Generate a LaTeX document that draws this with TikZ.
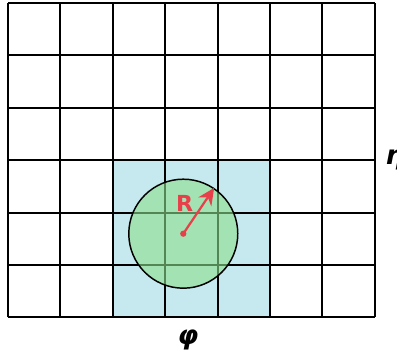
\documentclass[tikz,border=0pt]{standalone}
\usepackage{fontspec}
\usepackage{tikz}
\usetikzlibrary{arrows.meta, positioning, calc}
\newfontfamily\labelfont{DejaVu Sans}
\definecolor{cellblue}{RGB}{197,233,238}
\definecolor{discgreen}{RGB}{140,222,140}
\definecolor{radred}{RGB}{232,64,74}

\begin{document}
\begin{tikzpicture}[
    x=1cm, y=1cm,
    gridline/.style={line width=1.1pt, black},
    disc/.style={circle, draw=black, line width=0.8pt, fill=discgreen, fill opacity=0.6, minimum size=2.08cm, inner sep=0pt},
    radarrow/.style={-{Stealth[length=3.2mm, width=3mm]}, line width=1.2pt, radred},
    axlabel/.style={font=\labelfont\bfseries\itshape\Large, inner sep=0pt}
]
\useasboundingbox (-0.153,-0.706) rectangle (7.424,6.057);
% window of neighbouring cells
\fill[cellblue] (2,0) rectangle (5,3);
% grid
\foreach \i in {0,...,7}
  \draw[gridline] (\i,0) -- (\i,6);
\foreach \j in {0,...,6}
  \draw[gridline] (0,\j) -- (7,\j);
% search radius
\node[disc] (disc) at (3.345,1.597) {};
\fill[radred] (disc.center) circle (0.06);
\draw[radarrow] (disc.center) -- (disc.56);
\node[font=\labelfont\bfseries\large, text=radred] (rlabel) at (3.37,2.18) {R};
\node[axlabel] (phi) at (3.435,-0.44) {φ};
\node[axlabel, anchor=west] (eta) at (7.2,3.0) {η};
\end{tikzpicture}
\end{document}
